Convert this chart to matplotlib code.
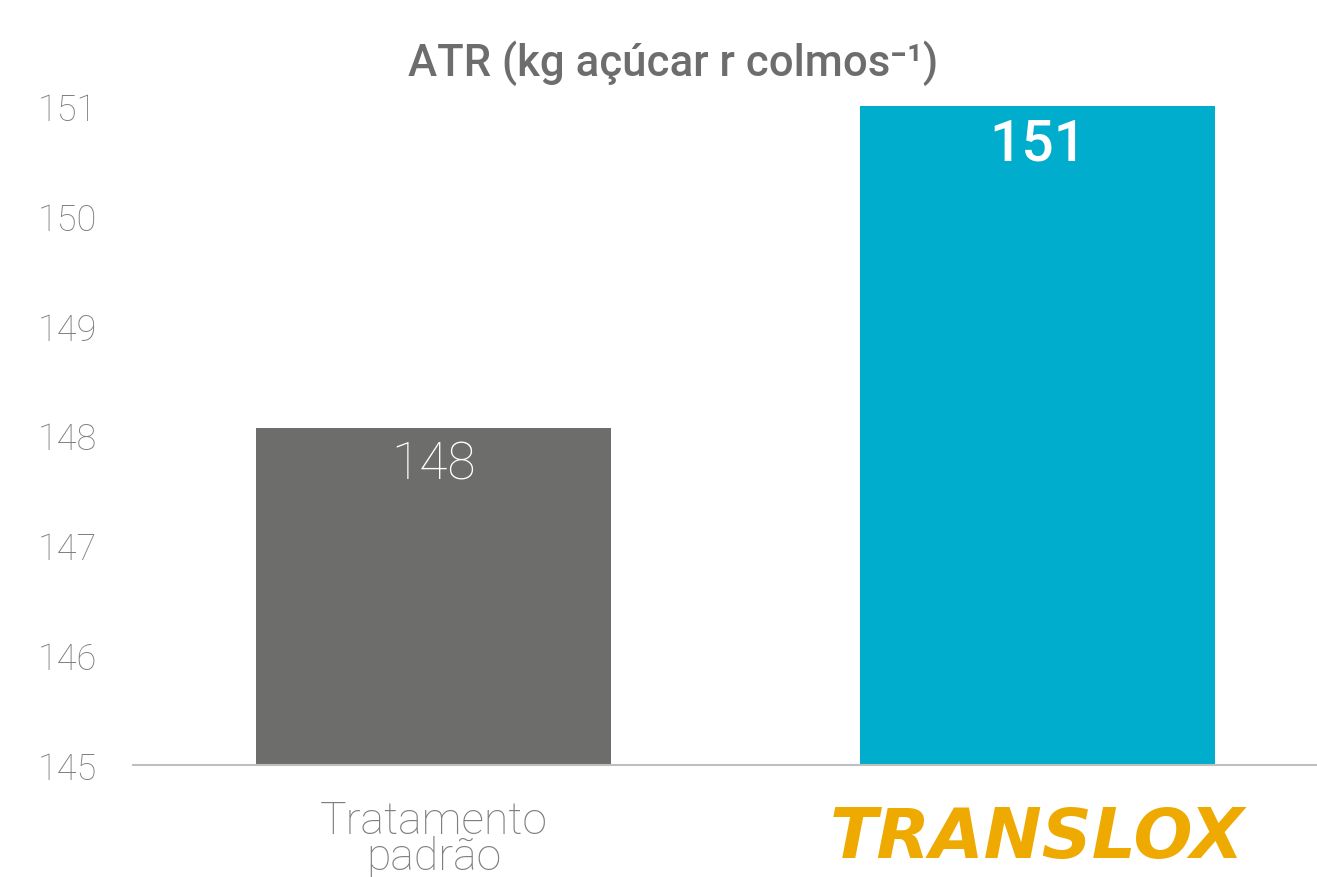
import matplotlib
matplotlib.use("Agg")
from matplotlib import pyplot as plt

categories = ['Tratamento\npadrão', 'TRANSLOX']
values = [148.07, 151.0]
value_labels = ['148', '151']
bar_colors = ['#6d6d6c', '#00adcd']
yticks = [145, 146, 147, 148, 149, 150, 151]

plt.rcParams['font.family'] = ['Roboto', 'DejaVu Sans']

fig = plt.figure(figsize=(13.17, 8.78), dpi=100)
ax = fig.add_axes([133 / 1317, 112 / 878, 1 - 133 / 1317, (766 - 107) / 878])

x = list(range(len(categories)))
ax.bar(x, values, width=0.588, color=bar_colors, bottom=0)
ax.set_ylim(145, 151)
ax.set_xlim(-0.4975, 1.463)

# value labels inside bars
ax.text(x[0], values[0] - 0.33, value_labels[0], ha='center', va='center',
        color='white', fontsize=37, fontweight='light')
ax.text(x[1], values[1] - 0.35, value_labels[1], ha='center', va='center',
        color='white', fontsize=41, fontweight='medium')

ax.set_yticks(yticks)
ax.set_yticklabels([str(t) for t in yticks], fontsize=26, color='#7f7f7f',
                   fontweight='light')
ax.tick_params(axis='y', length=0, pad=26)
ax.tick_params(axis='x', length=0, pad=25)
ax.set_xticks([x[0]])
ax.set_xticklabels([categories[0]], fontsize=32, color='#7f7f7f',
                   fontweight='light', linespacing=0.8, va='top')

# logo-like label for the second category
ax.text(x[1], 144.34, categories[1], ha='center', va='center',
        fontsize=50, fontweight='bold', fontstyle='oblique',
        family='DejaVu Sans', color='#eeaa00', clip_on=False)

for side in ['top', 'right', 'left']:
    ax.spines[side].set_visible(False)
ax.spines['bottom'].set_color('#bfbfbf')
ax.spines['bottom'].set_linewidth(1.5)

fig.text(673 / 1317, 1 - 63 / 878, 'ATR (kg açúcar r colmos⁻¹)',
         ha='center', va='center', fontsize=31.5, fontweight='medium',
         color='#6d6d6d')

fig.savefig('out.png', dpi=100)
